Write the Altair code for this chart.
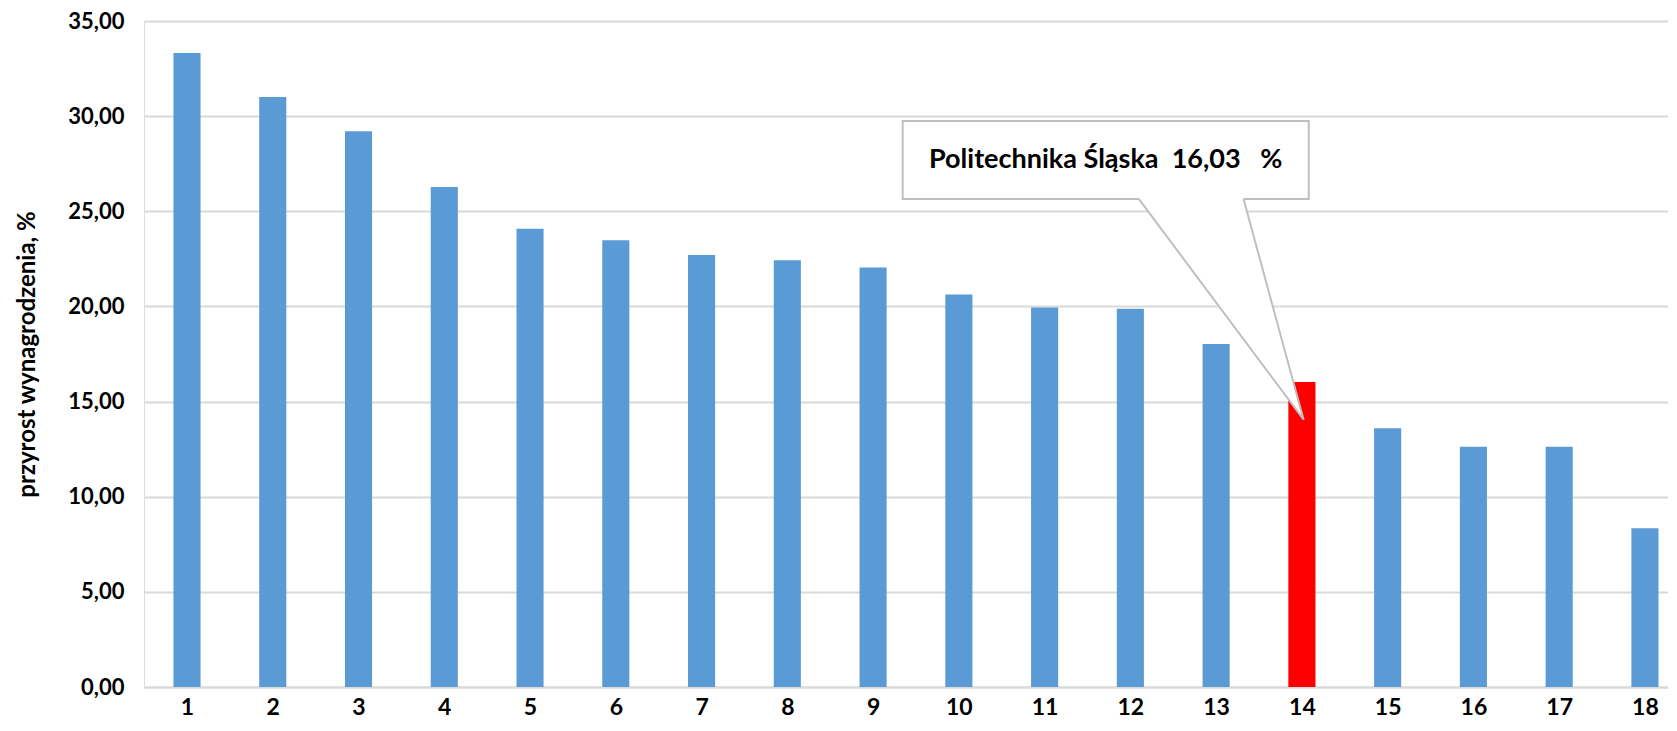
import altair as alt
import pandas as pd

# ---- data ----
positions = list(range(1, 19))
values = [33.32, 31.00, 29.20, 26.27, 24.08, 23.48, 22.70, 22.43, 22.04,
          20.63, 19.95, 19.88, 18.03, 16.03, 13.60, 12.63, 12.62, 8.34]
highlight_pos = 14
highlight_label = "Politechnika Śląska\u00a0\u00a016,03\u00a0\u00a0\u00a0%"
y_title = "przyrost wynagrodzenia, %"
y_ticks = [0, 5, 10, 15, 20, 25, 30, 35]

# ---- styling / layout constants ----
BLUE = "#5B9BD5"
RED = "#FF0000"
GRID = "#D9D9D9"
CALLOUT = "#BFBFBF"
FONT = "Lato"
HALF_BAR = 0.158          # half bar width in x units
X_DOMAIN = [0.4986, 18.269]

# callout geometry (data units)
box_x1, box_x2 = 9.345, 14.08
box_y1, box_y2 = 25.64, 29.75
ptr_left_x, ptr_right_x = 12.10, 13.32
tip_x, tip_y = 14.02, 14.05

df = pd.DataFrame({
    "pos": positions,
    "value": values,
})
df["x1"] = df["pos"] - HALF_BAR
df["x2"] = df["pos"] + HALF_BAR
df["color"] = [RED if p == highlight_pos else BLUE for p in positions]

xscale = alt.Scale(domain=X_DOMAIN, nice=False, zero=False)
yscale = alt.Scale(domain=[0, 35], nice=False)

bars = alt.Chart(df).mark_bar(stroke=None).encode(
    x=alt.X("x1:Q", scale=xscale,
            axis=alt.Axis(values=positions, format="d", grid=False, ticks=False,
                          domainColor=GRID, domainWidth=2, labelFont=FONT,
                          labelFontSize=23, labelFontWeight="bold", labelColor="#000000",
                          labelPadding=9, title=None)),
    x2="x2:Q",
    y=alt.Y("value:Q", scale=yscale,
            axis=alt.Axis(values=y_ticks, grid=True, gridColor=GRID, gridWidth=2,
                          domain=False, ticks=False,
                          labelExpr="replace(format(datum.value, '.2f'), '.', ',')",
                          labelFont=FONT, labelFontSize=22, labelFontWeight="bold",
                          labelColor="#000000", labelPadding=20,
                          title=y_title, titleFont=FONT, titleFontSize=24,
                          titleFontWeight="bold", titleColor="#000000",
                          titlePadding=28)),
    y2=alt.datum(0),
    color=alt.Color("color:N", scale=None),
)

# callout pointer (filled white triangle)
left_at_right = box_y1 + (ptr_right_x - ptr_left_x) / (tip_x - ptr_left_x) * (tip_y - box_y1)
ptr_df = pd.DataFrame({
    "x": [ptr_left_x, ptr_right_x, tip_x],
    "top": [box_y1, box_y1, tip_y],
    "bottom": [box_y1, left_at_right, tip_y],
})
pointer_fill = alt.Chart(ptr_df).mark_area(color="white", opacity=1).encode(
    x=alt.X("x:Q", scale=xscale), y=alt.Y("top:Q", scale=yscale), y2="bottom:Q"
)

box_df = pd.DataFrame({"x1": [box_x1], "x2": [box_x2], "y1": [box_y1], "y2": [box_y2]})
box = alt.Chart(box_df).mark_rect(fill="white", stroke=CALLOUT, strokeWidth=2).encode(
    x=alt.X("x1:Q", scale=xscale), x2="x2:Q",
    y=alt.Y("y1:Q", scale=yscale), y2="y2:Q"
)
cover_df = pd.DataFrame({"x": [ptr_left_x, ptr_right_x], "y": [box_y1, box_y1]})
cover = alt.Chart(cover_df).mark_line(color="white", strokeWidth=3).encode(
    x=alt.X("x:Q", scale=xscale), y=alt.Y("y:Q", scale=yscale)
)
outline_df = pd.DataFrame({
    "x": [ptr_left_x, tip_x, ptr_right_x],
    "y": [box_y1, tip_y, box_y1],
    "o": [0, 1, 2],
})
outline = alt.Chart(outline_df).mark_line(color=CALLOUT, strokeWidth=2).encode(
    x=alt.X("x:Q", scale=xscale), y=alt.Y("y:Q", scale=yscale), order="o:Q"
)
label_df = pd.DataFrame({"x": [(box_x1 + box_x2) / 2], "y": [(box_y1 + box_y2) / 2],
                         "t": [highlight_label]})
label = alt.Chart(label_df).mark_text(font=FONT, fontSize=27, fontWeight="bold",
                                      color="#000000", align="center",
                                      baseline="middle").encode(
    x=alt.X("x:Q", scale=xscale), y=alt.Y("y:Q", scale=yscale), text="t:N"
)

chart = alt.layer(bars, box, pointer_fill, cover, outline, label).properties(
    width=1524, height=666,
    autosize=alt.AutoSizeParams(type="none"),
    padding={"left": 136, "top": 13, "right": 0, "bottom": 40},
).configure_view(stroke=None).configure(background="white")

chart.save("out.html", embed_options={"renderer": "svg", "actions": False})
